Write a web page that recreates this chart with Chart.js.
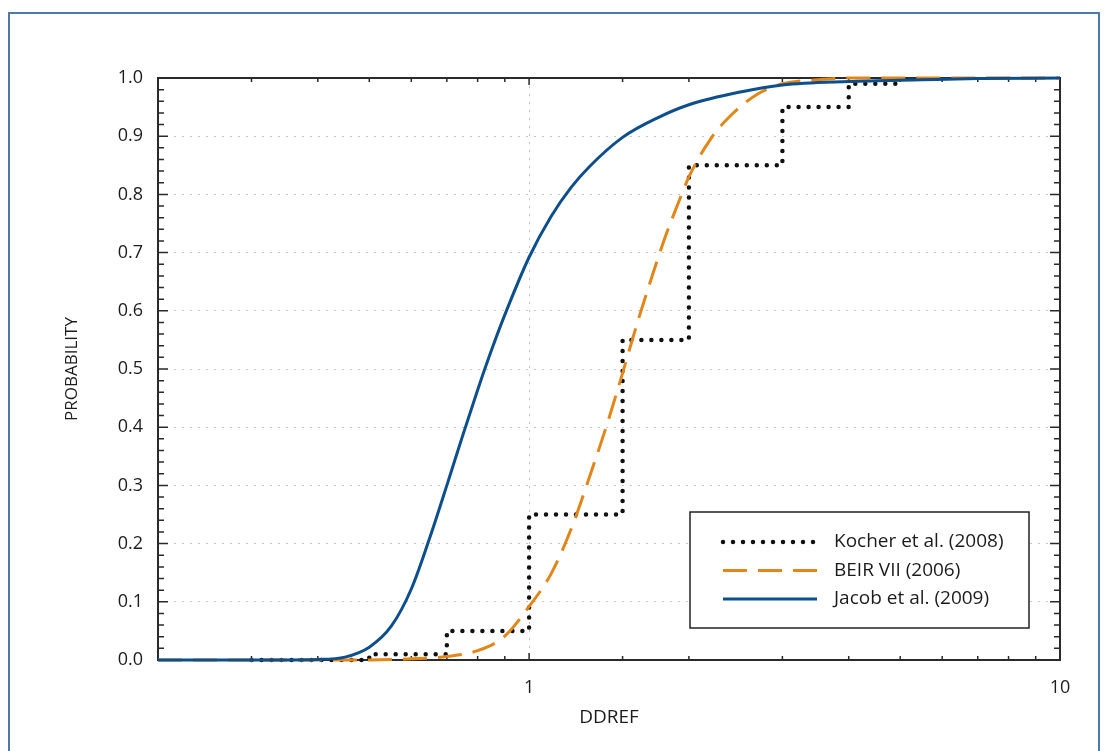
<!DOCTYPE html>
<html>
<head>
<meta charset="utf-8">
<script src="https://cdn.jsdelivr.net/npm/chart.js@4.4.1/dist/chart.umd.min.js"></script>
<style>
  html, body { margin: 0; padding: 0; background: #fff; }
  #wrap { position: relative; width: 1108px; height: 751px; overflow: hidden; }
  #frame { position: absolute; left: 8px; top: 12px; width: 1092px; height: 800px;
           border: 2px solid #4c79aa; box-sizing: border-box; }
  #chart { position: absolute; left: 0; top: 0; }
</style>
</head>
<body>
<div id="wrap">
  <div id="frame"></div>
  <canvas id="chart" width="1108" height="751"></canvas>
</div>
<script>
// Kocher et al. (2008) - step distribution
const kocherX = [0.3, 0.5, 0.7, 1.0, 1.5, 2.0, 3.0, 4.0, 5.0];
const kocherP = [0, 0.01, 0.05, 0.25, 0.55, 0.85, 0.95, 0.99, 0.99];

// BEIR VII (2006)
const beirX = [0.2, 0.5, 0.6, 0.7, 0.8, 0.9, 1.0, 1.1, 1.2, 1.3, 1.4, 1.5, 1.6, 1.7, 1.8, 1.9,
               2.0, 2.2, 2.4, 2.7, 3.0, 3.5, 4.0, 10];
const beirP = [0, 0, 0.002, 0.006, 0.016, 0.041, 0.092, 0.148, 0.225, 0.315, 0.403, 0.493, 0.580,
               0.656, 0.724, 0.780, 0.830, 0.896, 0.936, 0.973, 0.990, 0.997, 1.0, 1.0];

// Jacob et al. (2009)
const jacobX = [0.2, 0.3, 0.4, 0.45, 0.5, 0.55, 0.6, 0.65, 0.7, 0.75, 0.8, 0.85, 0.9, 1.0, 1.1,
                1.2, 1.3, 1.5, 1.75, 2.0, 2.5, 3.0, 4.0, 5.5, 7.0, 10];
const jacobP = [0, 0, 0.001, 0.005, 0.022, 0.058, 0.122, 0.210, 0.300, 0.386, 0.464, 0.533, 0.593,
                0.692, 0.762, 0.812, 0.848, 0.898, 0.932, 0.954, 0.976, 0.988, 0.994, 0.997, 0.999, 1.0];

const seriesNames = ['Kocher et al. (2008)', 'BEIR VII (2006)', 'Jacob et al. (2009)'];
const xTickLabels = {1: '1', 10: '10'};

const FONT = '"Open Sans", sans-serif';
const INK = '#1c1c1c';

const pts = (xs, ys) => xs.map((x, i) => ({x: x, y: ys[i]}));

// axis box and inward ticks, drawn under the curves
const frameTicks = {
  id: 'frameTicks',
  beforeDatasetsDraw(chart) {
    const {ctx, chartArea: a, scales: {x, y}} = chart;
    ctx.save();
    ctx.strokeStyle = '#2a2a2a';
    ctx.lineWidth = 1.5;
    ctx.beginPath();
    for (let i = 0; i <= 50; i++) {
      const py = y.getPixelForValue(i / 50);
      const len = i % 5 === 0 ? 10 : 6;
      ctx.moveTo(a.left, py); ctx.lineTo(a.left + len, py);
      ctx.moveTo(a.right, py); ctx.lineTo(a.right - len, py);
    }
    x.ticks.forEach(t => {
      const px = x.getPixelForValue(t.value);
      const lg = Math.log10(t.value);
      const len = Math.abs(lg - Math.round(lg)) < 1e-6 ? 7 : 4;
      ctx.moveTo(px, a.bottom); ctx.lineTo(px, a.bottom - len);
      ctx.moveTo(px, a.top); ctx.lineTo(px, a.top + len);
    });
    ctx.stroke();
    ctx.lineWidth = 2;
    ctx.strokeRect(a.left, a.top, a.right - a.left, a.bottom - a.top);
    ctx.restore();
  }
};

// boxed legend in the lower right of the plot
const legendBox = {
  id: 'legendBox',
  afterDatasetsDraw(chart) {
    const {ctx, chartArea: a} = chart;
    const bx = a.right - 370, by = a.bottom - 148, bw = 339, bh = 116;
    ctx.save();
    ctx.fillStyle = '#fff';
    ctx.fillRect(bx, by, bw, bh);
    ctx.strokeStyle = '#222';
    ctx.lineWidth = 1.5;
    ctx.strokeRect(bx, by, bw, bh);
    ctx.font = '19px ' + FONT;
    ctx.textBaseline = 'middle';
    chart.data.datasets.forEach((ds, i) => {
      const ly = by + 30 + i * 28.5;
      ctx.strokeStyle = ds.borderColor;
      ctx.lineWidth = ds.borderWidth;
      ctx.setLineDash(ds.borderDash || []);
      ctx.lineCap = ds.borderCapStyle || 'butt';
      ctx.beginPath();
      ctx.moveTo(bx + 33, ly);
      ctx.lineTo(bx + 127, ly);
      ctx.stroke();
      ctx.setLineDash([]);
      ctx.fillStyle = INK;
      ctx.fillText(ds.label, bx + 144, ly);
    });
    ctx.restore();
  }
};

new Chart(document.getElementById('chart'), {
  type: 'line',
  data: {
    datasets: [
      {
        label: seriesNames[0],
        data: pts(kocherX, kocherP),
        stepped: true,
        borderColor: '#111111',
        borderWidth: 4.5,
        borderDash: [0, 10],
        borderCapStyle: 'round',
        pointRadius: 0,
        fill: false,
        clip: 6,
        order: 2
      },
      {
        label: seriesNames[1],
        data: pts(beirX, beirP),
        cubicInterpolationMode: 'monotone',
        borderColor: '#e2861a',
        borderWidth: 3,
        borderDash: [24, 11],
        pointRadius: 0,
        fill: false,
        clip: 6,
        order: 1
      },
      {
        label: seriesNames[2],
        data: pts(jacobX, jacobP),
        cubicInterpolationMode: 'monotone',
        borderColor: '#0c4f8c',
        borderWidth: 3,
        pointRadius: 0,
        fill: false,
        clip: 6,
        order: 0
      }
    ]
  },
  options: {
    responsive: false,
    animation: false,
    devicePixelRatio: 1,
    layout: { padding: { left: 0, top: 78, right: 48, bottom: 0 } },
    plugins: { legend: { display: false }, tooltip: { enabled: false } },
    scales: {
      x: {
        type: 'logarithmic',
        min: 0.2,
        max: 10,
        afterFit: s => { s.height = 91; },
        grid: {
          drawTicks: false,
          color: c => (c.tick && Math.abs(c.tick.value - 1) < 1e-9) ? '#c4c4c4' : 'rgba(0,0,0,0)',
          lineWidth: 1
        },
        border: { display: false, dash: [2, 6] },
        ticks: {
          autoSkip: false,
          maxRotation: 0,
          minRotation: 0,
          padding: 17,
          color: INK,
          font: { family: FONT, size: 18 },
          callback: v => {
            for (const k in xTickLabels) if (Math.abs(v - k) < 1e-9) return xTickLabels[k];
            return '';
          }
        },
        title: {
          display: true,
          text: 'DDREF',
          color: INK,
          font: { family: FONT, size: 19 },
          padding: { top: 0, bottom: 22 }
        }
      },
      y: {
        min: 0,
        max: 1,
        afterFit: s => { s.width = 158; },
        grid: {
          drawTicks: false,
          color: c => (c.tick && c.tick.value > 0.001 && c.tick.value < 0.999) ? '#c4c4c4' : 'rgba(0,0,0,0)',
          lineWidth: 1
        },
        border: { display: false, dash: [2, 6] },
        ticks: {
          stepSize: 0.1,
          padding: 15,
          color: INK,
          font: { family: FONT, size: 18 },
          callback: v => v.toFixed(1)
        },
        title: {
          display: true,
          text: 'PROBABILITY',
          color: INK,
          font: { family: FONT, size: 17 },
          padding: { top: 62, bottom: 0 }
        }
      }
    }
  },
  plugins: [frameTicks, legendBox]
});
</script>
</body>
</html>
